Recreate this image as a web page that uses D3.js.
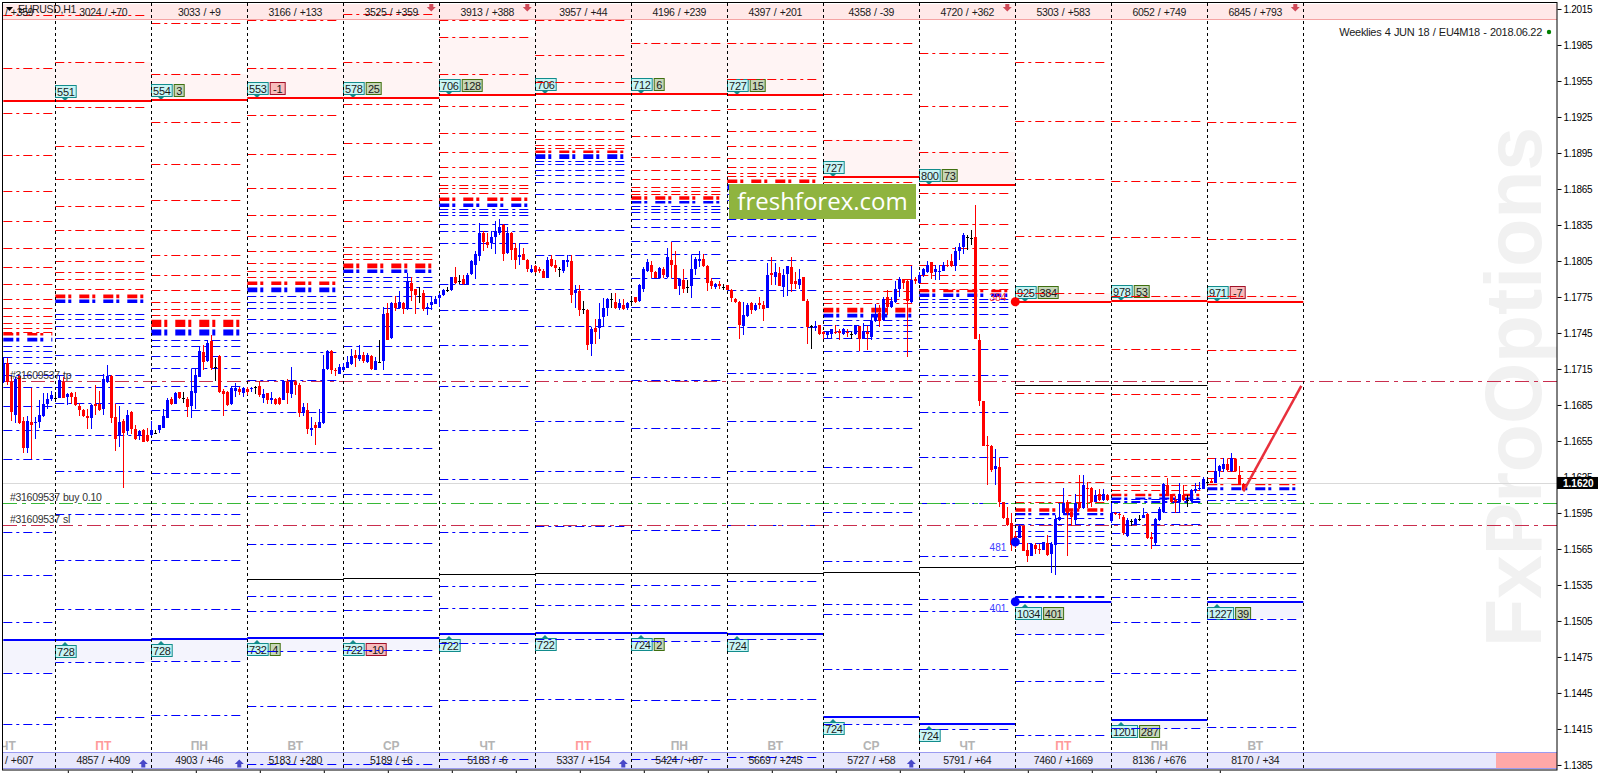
<!DOCTYPE html>
<html>
<head>
<meta charset="utf-8">
<title>EURUSD,H1</title>
<script src="https://cdn.jsdelivr.net/npm/d3@7"></script>
<style>
  html, body { margin: 0; padding: 0; background: #fff; overflow: hidden; }
  text { font-family: "Liberation Sans", sans-serif; }
  .small { font-size: 10.5px; fill: #1a1a1a; letter-spacing: -0.3px; word-spacing: 0.6px; }
  .axis text { font-family: "Liberation Sans", sans-serif; font-size: 10px; fill: #000; letter-spacing: -0.3px; }
  .axis line { stroke: #000; }
</style>
</head>
<body>
<div id="chart"></div>
<script>
// all prices are in points (1.1620 -> 11620)
const priceTicks = [12015, 11985, 11955, 11925, 11895, 11865, 11835, 11805, 11775, 11745, 11715, 11685, 11655, 11625, 11595, 11565, 11535, 11505, 11475, 11445, 11415, 11385]

const candleOpen = [
  11704, 11720, 11704, 11677, 11709, 11672, 11649, 11671, 11670, 11671,
  11676, 11686, 11690, 11691, 11691, 11704, 11692, 11695, 11692, 11684,
  11681, 11676, 11674, 11686, 11686, 11682, 11704, 11709, 11675, 11659,
  11672, 11663, 11679, 11665, 11659, 11664, 11660, 11660, 11662, 11664,
  11666, 11674, 11690, 11686, 11696, 11691, 11690, 11684, 11695, 11708,
  11729, 11722, 11738, 11717, 11726, 11697, 11696, 11686, 11697, 11698,
  11695, 11698, 11698, 11700, 11701, 11691, 11695, 11689, 11690, 11691,
  11689, 11704, 11694, 11704, 11702, 11678, 11681, 11664, 11668, 11666,
  11670, 11715, 11730, 11714, 11711, 11714, 11716, 11719, 11727, 11723,
  11727, 11721, 11726, 11714, 11721, 11722, 11762, 11741, 11770, 11766,
  11770, 11765, 11787, 11782, 11776, 11778, 11765, 11768, 11769, 11774,
  11777, 11781, 11781, 11792, 11788, 11790, 11785, 11794, 11802, 11809,
  11828, 11821, 11820, 11825, 11828, 11835, 11812, 11828, 11816, 11808,
  11811, 11806, 11796, 11801, 11798, 11797, 11791, 11807, 11802, 11798,
  11797, 11804, 11805, 11778, 11780, 11765, 11764, 11736, 11749, 11749,
  11758, 11766, 11773, 11771, 11766, 11768, 11766, 11772, 11775, 11772,
  11782, 11797, 11802, 11796, 11791, 11798, 11792, 11806, 11802, 11784,
  11789, 11783, 11784, 11798, 11805, 11807, 11801, 11788, 11783, 11786,
  11783, 11785, 11781, 11773, 11771, 11751, 11759, 11770, 11764, 11770,
  11768, 11766, 11795, 11792, 11795, 11783, 11794, 11800, 11788, 11785,
  11792, 11772, 11751, 11749, 11752, 11746, 11743, 11744, 11746, 11747,
  11744, 11746, 11744, 11744, 11751, 11740, 11746, 11742, 11755, 11762,
  11756, 11775, 11767, 11771, 11782, 11790, 11788, 11771, 11790, 11787,
  11793, 11796, 11804, 11796, 11796, 11797, 11802, 11805, 11801, 11813,
  11817, 11825, 11824, 11825, 11739, 11688, 11652, 11651, 11632, 11633,
  11604, 11591, 11587, 11576, 11574, 11584, 11564, 11559, 11568, 11565,
  11564, 11570, 11561, 11568, 11589, 11595, 11604, 11596, 11589, 11604,
  11599, 11616, 11616, 11604, 11611, 11606, 11610, 11588, 11595, 11594,
  11592, 11576, 11588, 11586, 11590, 11591, 11594, 11575, 11570, 11589,
  11596, 11618, 11611, 11606, 11604, 11610, 11606, 11605, 11613, 11615,
  11615, 11621, 11622, 11620, 11630, 11632, 11636, 11630, 11640, 11627, 11619
]
const candleHigh = [
  11725, 11724, 11709, 11708, 11710, 11675, 11676, 11699, 11675, 11689,
  11695, 11695, 11697, 11696, 11710, 11708, 11695, 11696, 11696, 11687,
  11682, 11682, 11686, 11702, 11697, 11711, 11718, 11710, 11686, 11684,
  11673, 11681, 11680, 11668, 11664, 11665, 11666, 11672, 11664, 11668,
  11682, 11691, 11692, 11696, 11696, 11696, 11692, 11715, 11716, 11734,
  11735, 11739, 11743, 11724, 11727, 11698, 11697, 11701, 11703, 11700,
  11700, 11700, 11700, 11701, 11705, 11698, 11695, 11696, 11691, 11692,
  11706, 11707, 11717, 11706, 11703, 11687, 11687, 11675, 11671, 11682,
  11727, 11731, 11731, 11716, 11719, 11720, 11726, 11732, 11731, 11735,
  11729, 11728, 11727, 11725, 11739, 11767, 11770, 11771, 11776, 11780,
  11771, 11795, 11792, 11782, 11783, 11781, 11770, 11775, 11776, 11778,
  11782, 11783, 11792, 11800, 11793, 11793, 11795, 11806, 11813, 11837,
  11830, 11828, 11830, 11838, 11840, 11836, 11833, 11829, 11820, 11820,
  11816, 11807, 11802, 11802, 11800, 11798, 11808, 11810, 11806, 11800,
  11806, 11810, 11810, 11785, 11785, 11772, 11765, 11750, 11757, 11770,
  11774, 11774, 11778, 11778, 11773, 11773, 11771, 11776, 11775, 11786,
  11800, 11807, 11805, 11797, 11800, 11800, 11816, 11821, 11813, 11791,
  11798, 11789, 11810, 11808, 11813, 11811, 11802, 11791, 11787, 11788,
  11786, 11785, 11782, 11774, 11772, 11771, 11770, 11771, 11770, 11775,
  11772, 11803, 11808, 11803, 11800, 11798, 11801, 11808, 11796, 11798,
  11792, 11773, 11752, 11755, 11752, 11747, 11747, 11748, 11752, 11748,
  11749, 11748, 11746, 11752, 11751, 11753, 11751, 11761, 11769, 11768,
  11775, 11781, 11775, 11788, 11792, 11790, 11789, 11801, 11792, 11796,
  11799, 11805, 11804, 11802, 11802, 11804, 11806, 11811, 11817, 11820,
  11828, 11827, 11831, 11852, 11744, 11688, 11659, 11652, 11648, 11641,
  11604, 11600, 11595, 11580, 11585, 11584, 11570, 11570, 11570, 11569,
  11571, 11577, 11571, 11593, 11603, 11616, 11606, 11597, 11611, 11627,
  11627, 11621, 11617, 11614, 11615, 11615, 11611, 11603, 11596, 11595,
  11593, 11591, 11590, 11591, 11593, 11599, 11595, 11579, 11591, 11600,
  11620, 11624, 11611, 11609, 11620, 11618, 11610, 11615, 11620, 11621,
  11625, 11623, 11623, 11641, 11635, 11641, 11640, 11645, 11641, 11634, 11620
]
const candleLow = [
  11703, 11702, 11672, 11670, 11669, 11645, 11645, 11640, 11657, 11666,
  11675, 11682, 11688, 11689, 11691, 11691, 11685, 11686, 11684, 11676,
  11675, 11665, 11665, 11677, 11680, 11677, 11703, 11670, 11647, 11650,
  11616, 11660, 11661, 11656, 11656, 11654, 11654, 11659, 11661, 11662,
  11666, 11674, 11685, 11686, 11690, 11687, 11675, 11674, 11682, 11708,
  11714, 11721, 11714, 11705, 11695, 11676, 11684, 11685, 11692, 11693,
  11692, 11693, 11696, 11694, 11692, 11687, 11686, 11686, 11685, 11685,
  11689, 11686, 11691, 11693, 11675, 11676, 11661, 11659, 11652, 11666,
  11669, 11714, 11711, 11709, 11711, 11713, 11716, 11718, 11717, 11722,
  11720, 11720, 11714, 11714, 11720, 11714, 11739, 11740, 11763, 11765,
  11761, 11764, 11772, 11761, 11770, 11763, 11760, 11764, 11769, 11767,
  11776, 11779, 11780, 11786, 11786, 11785, 11785, 11793, 11790, 11805,
  11813, 11816, 11815, 11811, 11827, 11805, 11811, 11806, 11798, 11802,
  11806, 11796, 11795, 11795, 11795, 11791, 11791, 11800, 11796, 11792,
  11795, 11800, 11770, 11766, 11759, 11761, 11731, 11726, 11736, 11740,
  11750, 11759, 11766, 11765, 11764, 11764, 11764, 11769, 11770, 11771,
  11779, 11796, 11791, 11791, 11790, 11791, 11791, 11791, 11782, 11777,
  11778, 11778, 11774, 11793, 11800, 11800, 11780, 11782, 11782, 11782,
  11781, 11781, 11771, 11770, 11740, 11743, 11758, 11761, 11763, 11765,
  11755, 11766, 11785, 11785, 11784, 11775, 11776, 11779, 11782, 11782,
  11772, 11736, 11732, 11747, 11743, 11740, 11740, 11740, 11744, 11739,
  11743, 11742, 11740, 11743, 11730, 11740, 11731, 11739, 11754, 11750,
  11755, 11760, 11766, 11770, 11775, 11782, 11725, 11770, 11786, 11786,
  11792, 11795, 11790, 11789, 11789, 11797, 11800, 11800, 11797, 11806,
  11811, 11814, 11818, 11740, 11684, 11651, 11618, 11629, 11618, 11600,
  11590, 11584, 11563, 11566, 11574, 11563, 11554, 11559, 11561, 11561,
  11564, 11559, 11545, 11543, 11588, 11593, 11559, 11584, 11585, 11598,
  11598, 11599, 11600, 11604, 11605, 11605, 11605, 11587, 11593, 11590,
  11577, 11575, 11584, 11585, 11588, 11591, 11573, 11565, 11568, 11588,
  11595, 11609, 11603, 11595, 11596, 11605, 11600, 11604, 11612, 11614,
  11615, 11620, 11620, 11620, 11625, 11629, 11630, 11629, 11629, 11618, 11613
]
const candleClose = [
  11720, 11704, 11679, 11707, 11670, 11649, 11672, 11668, 11671, 11677,
  11686, 11690, 11693, 11691, 11706, 11691, 11694, 11692, 11685, 11681,
  11676, 11674, 11685, 11684, 11681, 11707, 11709, 11674, 11657, 11671,
  11662, 11677, 11665, 11657, 11663, 11654, 11655, 11664, 11662, 11668,
  11676, 11689, 11686, 11695, 11691, 11691, 11683, 11697, 11710, 11730,
  11721, 11737, 11716, 11717, 11696, 11694, 11685, 11699, 11699, 11696,
  11699, 11696, 11699, 11700, 11693, 11694, 11689, 11691, 11686, 11686,
  11705, 11695, 11705, 11702, 11678, 11683, 11665, 11666, 11666, 11671,
  11715, 11730, 11714, 11713, 11717, 11717, 11721, 11726, 11724, 11727,
  11722, 11727, 11715, 11722, 11721, 11761, 11739, 11770, 11766, 11771,
  11765, 11788, 11780, 11777, 11776, 11765, 11767, 11771, 11773, 11777,
  11781, 11781, 11792, 11787, 11788, 11786, 11793, 11805, 11811, 11828,
  11821, 11818, 11825, 11830, 11833, 11811, 11828, 11814, 11806, 11810,
  11806, 11798, 11798, 11796, 11797, 11791, 11806, 11801, 11799, 11798,
  11806, 11806, 11777, 11781, 11764, 11765, 11735, 11748, 11746, 11757,
  11766, 11773, 11773, 11766, 11770, 11765, 11770, 11772, 11771, 11785,
  11798, 11804, 11796, 11791, 11799, 11793, 11808, 11802, 11782, 11790,
  11782, 11783, 11798, 11807, 11807, 11801, 11787, 11784, 11786, 11784,
  11783, 11781, 11774, 11771, 11752, 11760, 11768, 11764, 11768, 11768,
  11765, 11793, 11793, 11796, 11784, 11793, 11801, 11786, 11786, 11790,
  11772, 11750, 11751, 11751, 11744, 11744, 11746, 11748, 11745, 11745,
  11748, 11745, 11744, 11752, 11740, 11747, 11744, 11755, 11761, 11755,
  11773, 11767, 11772, 11782, 11790, 11787, 11772, 11789, 11788, 11793,
  11798, 11802, 11795, 11798, 11797, 11802, 11801, 11801, 11813, 11817,
  11827, 11825, 11824, 11740, 11688, 11651, 11651, 11631, 11634, 11604,
  11591, 11585, 11568, 11570, 11584, 11563, 11559, 11569, 11565, 11564,
  11571, 11560, 11569, 11590, 11592, 11603, 11595, 11592, 11603, 11599,
  11618, 11615, 11604, 11610, 11606, 11611, 11606, 11595, 11594, 11593,
  11578, 11589, 11588, 11590, 11590, 11593, 11574, 11573, 11590, 11598,
  11619, 11610, 11604, 11604, 11611, 11606, 11606, 11614, 11615, 11616,
  11623, 11621, 11620, 11630, 11634, 11636, 11631, 11641, 11630, 11618, 11614
]

// one entry per daily column, first one is the cut off column on the left
const dayNames = ['ЧТ', 'ПТ', 'ПН', 'ВТ', 'СР', 'ЧТ', 'ПТ', 'ПН', 'ВТ', 'СР', 'ЧТ', 'ПТ', 'ПН', 'ВТ']
const headerTexts = ['/ +359', '3024 / +70', '3033 / +9', '3166 / +133', '3525 / +359', '3913 / +388', '3957 / +44', '4196 / +239', '4397 / +201', '4358 / -39', '4720 / +362', '5303 / +583', '6052 / +749', '6845 / +793']
const footerTexts = ['/ +607', '4857 / +409', '4903 / +46', '5183 / +280', '5189 / +6', '5183 / -6', '5337 / +154', '5424 / +87', '5669 / +245', '5727 / +58', '5791 / +64', '7460 / +1669', '8136 / +676', '8170 / +34']

const redLevels = [
  [12010, 11966, 11928, 11893, 11863, 11838, 11816, 11800, 11786, 11773, 11766, 11759, 11753, 11749, 11746],
  [12010, 11971, 11933, 11901, 11873, 11851, 11831, 11816, 11805, 11796, 11790, 11782],
  [12003, 11961, 11921, 11886, 11856, 11831, 11810, 11793, 11781, 11771, 11765, 11760],
  [12006, 11966, 11927, 11894, 11866, 11843, 11826, 11813, 11803, 11797, 11792],
  [12011, 11971, 11936, 11903, 11876, 11856, 11838, 11817, 11811, 11807],
  [12006, 11992, 11961, 11934, 11912, 11896, 11883, 11875, 11868, 11866, 11862],
  [12006, 11977, 11954, 11936, 11923, 11913, 11907, 11902, 11899],
  [11987, 11931, 11909, 11892, 11881, 11873, 11867, 11863, 11861],
  [11987, 11957, 11932, 11913, 11901, 11891, 11883, 11878, 11876],
  [11987, 11944, 11906, 11871, 11820, 11802, 11790, 11780, 11773, 11770],
  [11978, 11934, 11896, 11862, 11836, 11816, 11802, 11793, 11787, 11782],
  [11971, 11922, 11873, 11826, 11778, 11735, 11695, 11661, 11636, 11621, 11610, 11604],
  [11922, 11872, 11825, 11776, 11732, 11694, 11661, 11640, 11626, 11618, 11614],
  [11921, 11871, 11823, 11776, 11731, 11692, 11662, 11641, 11630, 11624]
]
const blueLevels = [
  [11734, 11730, 11725, 11720, 11710, 11700, 11684, 11664, 11640, 11579, 11543, 11504, 11462, 11419],
  [11761, 11757, 11751, 11741, 11727, 11710, 11700, 11687, 11660, 11630, 11594, 11556, 11515, 11471, 11425],
  [11739, 11734, 11726, 11716, 11701, 11681, 11656, 11628, 11594, 11556, 11515, 11472, 11427],
  [11776, 11771, 11766, 11757, 11745, 11729, 11706, 11679, 11646, 11609, 11569, 11526, 11513, 11480, 11434, 11386],
  [11792, 11788, 11783, 11776, 11766, 11751, 11734, 11711, 11681, 11649, 11611, 11570, 11526, 11514, 11481, 11434, 11386],
  [11848, 11846, 11843, 11836, 11830, 11820, 11786, 11764, 11735, 11701, 11664, 11623, 11579, 11534, 11516, 11487, 11439, 11390],
  [11888, 11886, 11881, 11877, 11871, 11861, 11848, 11831, 11810, 11782, 11751, 11714, 11672, 11630, 11584, 11536, 11518, 11490, 11440],
  [11851, 11848, 11846, 11840, 11833, 11822, 11811, 11791, 11767, 11740, 11706, 11666, 11625, 11581, 11535, 11518, 11488, 11439, 11390],
  [11861, 11856, 11849, 11840, 11826, 11806, 11781, 11750, 11712, 11672, 11630, 11585, 11538, 11518, 11490, 11440, 11392],
  [11756, 11752, 11747, 11741, 11730, 11714, 11692, 11666, 11633, 11596, 11555, 11519, 11511, 11465, 11419],
  [11773, 11771, 11767, 11761, 11750, 11732, 11710, 11679, 11642, 11603, 11559, 11523, 11513, 11465, 11415],
  [11591, 11586, 11580, 11576, 11570, 11526, 11525, 11494, 11455, 11410],
  [11607, 11605, 11604, 11596, 11586, 11578, 11568, 11540, 11525, 11504, 11462, 11415.5],
  [11611, 11606, 11595, 11575, 11545, 11525, 11507, 11464, 11417]
]
const blackLevels = [[], [], [], [11540], [11541], [11544], [11545], [11545], [11545], [11546], [11550], [11701.4, 11652, 11551], [11702, 11653, 11553], [11553]]

// the dense zones, [top, bottom]
const redBands = [[11745, 11743], [11777, 11774], [11756, 11750], [11788, 11785], [11803, 11799], [11858, 11855], [11897, 11895], [11859, 11856], [11873, 11870], [11766, 11762], [11781, 11779], [11599, 11596], [11611, 11609], [11620, 11618]]
const blueBands = [[11741, 11738], [11773, 11770], [11748, 11743], [11783, 11779], [11798, 11795], [11853, 11850], [11894, 11890], [11855, 11853], [11869, 11864], [11761, 11758], [11778, 11775], [11595, 11593], [11607.5, 11606.5], [11616.4, 11614]]

const thickRed = [11938.6, 11938.6, 11939.4, 11941, 11941, 11943, 11944, 11944, 11943, 11875, 11868.6, 11771, 11772, 11771]
const thickBlue = [11489, 11489.5, 11490, 11491, 11491, 11494.5, 11495, 11495, 11494, 11425, 11419, 11521, 11422.5, 11521]
const shadeRed = [11966, 11971, 11961, 11966, 11971, 11992, 12006, 11987, 11987, 11906, 11896, 11778, 11776, 11776]
const shadeBlue = [11462, 11471, 11472, 11480, 11481, 11487, 11490, 11488, 11490, 11419, 11415, 11494, 11415.5, 11507]

// tags on the thick lines, value and change from the day before
const redTagValues = ['', '551', '554', '553', '578', '706', '706', '712', '727', '727', '800', '925', '978', '971']
const redTagDeltas = ['', '', '3', '-1', '25', '128', '', '6', '15', '', '73', '384', '53', '-7']
const blueTagValues = ['', '728', '728', '732', '722', '722', '722', '724', '724', '724', '724', '1034', '1201', '1227']
const blueTagDeltas = ['', '', '', '4', '-10', '', '', '2', '', '', '', '401', '287', '39']

// columns with the small arrows, in bars
const redArrowBars = [107, 131, 251, 323]
const blueArrowBars = [35, 59, 155, 227]

const orderTp = 11704.8
const orderBuy = 11603
const orderSl = 11584.7
const lastPrice = 11620
const trendBars = [310, 324.5]
const trendPrices = [11613, 11701]

const width = 1598
const height = 773
const axisX = 1557
const frameBottom = 770
const levelDash = '9,4,3,4'
const bandDash = '10,3,3,8'

const svg = d3.select('#chart').append('svg')
  .attr('width', width)
  .attr('height', height)
  .style('display', 'block')

const x = d3.scaleLinear().domain([0, 100]).range([3.3, 403.3])
const y = d3.scaleLinear().domain([12022.5, 11378.3]).range([0, height])

const colStart = i => i === 0 ? 0 : 13 + 24 * (i - 1)
const colEnd = i => 13 + 24 * i
const columns = d3.range(dayNames.length)

const defs = svg.append('defs')
defs.append('clipPath').attr('id', 'plot')
  .append('rect').attr('x', 3).attr('y', 3).attr('width', axisX - 3).attr('height', frameBottom - 3)

const plot = svg.append('g').attr('clip-path', 'url(#plot)')

// Watermark at the back
plot.append('text')
  .attr('transform', 'translate(1541, 647) rotate(-90)')
  .attr('textLength', 520)
  .attr('lengthAdjust', 'spacingAndGlyphs')
  .style('font-size', '80px')
  .style('font-weight', 'bold')
  .style('fill', '#f1f1f1')
  .text('FxProOptions')

// Pale zones next to the thick lines
plot.selectAll('.shade-red').data(columns).enter().append('rect')
  .attr('x', i => x(colStart(i)))
  .attr('y', i => y(shadeRed[i]))
  .attr('width', i => x(colEnd(i)) - x(colStart(i)))
  .attr('height', i => y(thickRed[i]) - y(shadeRed[i]))
  .attr('fill', '#fff4f4')
plot.selectAll('.shade-blue').data(columns).enter().append('rect')
  .attr('x', i => x(colStart(i)))
  .attr('y', i => y(thickBlue[i]))
  .attr('width', i => x(colEnd(i)) - x(colStart(i)))
  .attr('height', i => y(shadeBlue[i]) - y(thickBlue[i]))
  .attr('fill', '#f4f4fd')

// Header and footer strips
plot.append('rect').attr('x', 3).attr('y', y(12019)).attr('width', axisX - 3).attr('height', 15)
  .attr('fill', '#ffe8e8')
plot.append('line').attr('x1', 3).attr('x2', axisX).attr('y1', 19.5).attr('y2', 19.5)
  .attr('stroke', '#f5a3a3')
plot.append('rect').attr('x', 3).attr('y', 752).attr('width', axisX - 3).attr('height', 17)
  .attr('fill', '#e8e8fc')
plot.append('rect').attr('x', 1496).attr('y', 753).attr('width', axisX - 1496).attr('height', 15)
  .attr('fill', '#ffa8a8')
plot.selectAll('.foot-line').data([752.5, 768.5]).enter().append('line')
  .attr('x1', 3).attr('x2', axisX).attr('y1', d => d).attr('y2', d => d)
  .attr('stroke', '#9b9bf0')

// Tags, the lines run over them
function drawTag (group, value, delta, left, top, arrowUp) {
  const w = 4.5 + 5.4 * value.length
  top = Math.round(top)
  group.append('rect').attr('x', left + 0.5).attr('y', top + 0.5).attr('width', w).attr('height', 12)
    .attr('fill', '#c8f5f5').attr('stroke', '#128c8c')
  const ax = left + 10
  const tip = arrowUp ? top - 3 : top + 16
  const base = arrowUp ? top : top + 13
  group.append('path').attr('d', `M${ax - 3},${base}L${ax},${tip}L${ax + 3},${base}Z`).attr('fill', '#128c8c')
  group.append('text').attr('class', 'small').attr('x', left + 0.5 + w / 2).attr('y', top + 10.5)
    .attr('text-anchor', 'middle').style('font-size', '11px').text(value)
  if (delta) {
    const neg = delta[0] === '-'
    const dw = 5 + 5 * delta.length
    const dl = left + w + 2
    group.append('rect').attr('x', dl + 0.5).attr('y', top + 0.5).attr('width', dw).attr('height', 12)
      .attr('fill', neg ? '#f8bcbc' : '#c6d6b8').attr('stroke', neg ? '#a01028' : '#3f6f10')
    group.append('text').attr('class', 'small').attr('x', dl + 0.5 + dw / 2).attr('y', top + 10.5)
      .attr('text-anchor', 'middle').style('font-size', '11px').text(delta)
  }
}
const tags = plot.append('g')
columns.forEach(i => {
  const left = Math.round(x(colStart(i)))
  if (redTagValues[i]) drawTag(tags, redTagValues[i], redTagDeltas[i], left, y(thickRed[i]) - 16, false)
  if (blueTagValues[i]) drawTag(tags, blueTagValues[i], blueTagDeltas[i], left, y(thickBlue[i]) + 5, true)
})

// Levels of every day
function levelLines (levels, color) {
  columns.forEach(i => {
    plot.append('g').selectAll('line').data(levels[i]).enter().append('line')
      .attr('x1', x(colStart(i)))
      .attr('x2', x(colEnd(i)) - 3)
      .attr('y1', d => Math.round(y(d)) + 0.5)
      .attr('y2', d => Math.round(y(d)) + 0.5)
      .attr('stroke', color)
      .attr('stroke-dasharray', levelDash)
  })
}
levelLines(redLevels, '#ff0000')
levelLines(blueLevels, '#0000ff')

// Dense zones, one thick dash-dot stroke
function bandLines (bands, color) {
  plot.append('g').selectAll('line').data(columns).enter().append('line')
    .attr('x1', i => x(colStart(i)))
    .attr('x2', i => x(colEnd(i)) - 3)
    .attr('y1', i => (y(bands[i][0]) + y(bands[i][1])) / 2)
    .attr('y2', i => (y(bands[i][0]) + y(bands[i][1])) / 2)
    .attr('stroke', color)
    .attr('stroke-width', i => Math.max(2, y(bands[i][1]) - y(bands[i][0])))
    .attr('stroke-dasharray', bandDash)
}
bandLines(redBands, '#ff0000')
bandLines(blueBands, '#0000ff')

// Solid lines
columns.forEach(i => {
  plot.append('g').selectAll('line').data(blackLevels[i]).enter().append('line')
    .attr('x1', x(colStart(i))).attr('x2', x(colEnd(i)))
    .attr('y1', d => Math.round(y(d)) + 0.5).attr('y2', d => Math.round(y(d)) + 0.5)
    .attr('stroke', '#000')
})
plot.append('g').selectAll('line').data(columns).enter().append('line')
  .attr('x1', i => x(colStart(i))).attr('x2', i => x(colEnd(i)))
  .attr('y1', i => Math.round(y(thickRed[i]))).attr('y2', i => Math.round(y(thickRed[i])))
  .attr('stroke', '#ff0000').attr('stroke-width', 2)
plot.append('g').selectAll('line').data(columns).enter().append('line')
  .attr('x1', i => x(colStart(i))).attr('x2', i => x(colEnd(i)))
  .attr('y1', i => Math.round(y(thickBlue[i]))).attr('y2', i => Math.round(y(thickBlue[i])))
  .attr('stroke', '#0000ff').attr('stroke-width', 2)

// Last price and the order lines
plot.append('line').attr('x1', 3).attr('x2', axisX)
  .attr('y1', Math.round(y(lastPrice)) + 0.5).attr('y2', Math.round(y(lastPrice)) + 0.5)
  .attr('stroke', '#d9d9d9')
plot.selectAll('.order').data([[orderTp, '#c92e4e'], [orderBuy, '#37b837'], [orderSl, '#c92e4e']]).enter().append('line')
  .attr('x1', 3).attr('x2', axisX)
  .attr('y1', d => Math.round(y(d[0])) + 0.5).attr('y2', d => Math.round(y(d[0])) + 0.5)
  .attr('stroke', d => d[1])
  .attr('stroke-dasharray', '14,5,4,5')

// Day separators
plot.append('g').selectAll('line').data(columns).enter().append('line')
  .attr('x1', i => Math.round(x(colEnd(i))) + 0.5).attr('x2', i => Math.round(x(colEnd(i))) + 0.5)
  .attr('y1', 3).attr('y2', frameBottom)
  .attr('stroke', '#000').attr('stroke-dasharray', '3,3')

// Candles
const bars = d3.range(candleOpen.length)
const candleColor = i => candleClose[i] > candleOpen[i] ? '#0000ff' : (candleClose[i] < candleOpen[i] ? '#ff0000' : '#000')
const candles = plot.append('g').attr('shape-rendering', 'crispEdges')
candles.selectAll('line').data(bars).enter().append('line')
  .attr('x1', i => Math.round(x(i)) + 0.5).attr('x2', i => Math.round(x(i)) + 0.5)
  .attr('y1', i => y(candleHigh[i])).attr('y2', i => y(candleLow[i]))
  .attr('stroke', candleColor)
candles.selectAll('rect').data(bars).enter().append('rect')
  .attr('x', i => Math.round(x(i)) - 1)
  .attr('width', 3)
  .attr('y', i => y(Math.max(candleOpen[i], candleClose[i])))
  .attr('height', i => Math.max(1, Math.abs(y(candleOpen[i]) - y(candleClose[i]))))
  .attr('fill', candleColor)

// Trend arrow line
plot.append('path')
  .attr('d', d3.line().x(d => x(d[0])).y(d => y(d[1]))([[trendBars[0], trendPrices[0]], [trendBars[1], trendPrices[1]]]))
  .attr('stroke', '#e8303c').attr('stroke-width', 2.5).attr('fill', 'none')

// Dots with their numbers at the start of the last days
plot.selectAll('.dot').data([[11771, '#ff0000'], [11570.8, '#0000ff'], [11521, '#0000ff']]).enter().append('circle')
  .attr('cx', x(253)).attr('cy', d => y(d[0])).attr('r', 4.5).attr('fill', d => d[1])
plot.selectAll('.dot-label').data([[11771, '384', '#ff3030', -1], [11570.8, '481', '#4040ff', 9], [11521, '401', '#4040ff', 10]]).enter().append('text')
  .attr('x', x(253) - 9).attr('y', d => y(d[0]) + d[3])
  .attr('text-anchor', 'end')
  .style('font-size', '10px').style('fill', d => d[2])
  .text(d => d[1])

// Small arrows in the strips
plot.selectAll('.arrow-down').data(redArrowBars).enter().append('path')
  .attr('transform', d => `translate(${x(d)}, 7)`)
  .attr('d', 'M-2,-3H2V0H4.5L0,4.5L-4.5,0H-2Z').attr('fill', '#d04a58')
plot.selectAll('.arrow-up').data(blueArrowBars).enter().append('path')
  .attr('transform', d => `translate(${x(d)}, 764)`)
  .attr('d', 'M-2,3.5H2V0H4.5L0,-4.5L-4.5,0H-2Z').attr('fill', '#4848c8')

// Strip texts and day names
const center = i => i === 0 ? 8 : (x(colStart(i)) + x(colEnd(i))) / 2
plot.selectAll('.head').data(columns).enter().append('text')
  .attr('class', 'small')
  .attr('x', i => i === 0 ? 5 : center(i))
  .attr('y', 15.5)
  .attr('text-anchor', i => i === 0 ? 'start' : 'middle')
  .text(i => headerTexts[i])
plot.selectAll('.foot').data(columns).enter().append('text')
  .attr('class', 'small')
  .attr('x', i => i === 0 ? 5 : center(i))
  .attr('y', 764)
  .attr('text-anchor', i => i === 0 ? 'start' : 'middle')
  .text(i => footerTexts[i])
plot.selectAll('.day').data(columns).enter().append('text')
  .attr('x', center)
  .attr('y', 749.5)
  .attr('text-anchor', 'middle')
  .style('font-size', '12px')
  .style('font-weight', 'bold')
  .style('fill', i => dayNames[i] === 'ПТ' ? '#ff9a9a' : '#b4b4b4')
  .text(i => dayNames[i])

// Chart texts
plot.append('text').attr('class', 'small').attr('x', 18).attr('y', 13).text('EURUSD,H1')
plot.append('path').attr('d', 'M6,7H13L9.5,11Z').attr('fill', '#000')
plot.selectAll('.order-text')
  .data([['#31609537 tp', 379], ['#31609537 buy 0.10', 501], ['#31609537 sl', 523]]).enter().append('text')
  .attr('class', 'small').attr('x', 10).attr('y', d => d[1])
  .style('fill', '#333').text(d => d[0])
plot.append('text').attr('class', 'small').attr('x', 1542).attr('y', 36)
  .attr('text-anchor', 'end').style('font-size', '11px').text('Weeklies 4 JUN 18 / EU4M18 - 2018.06.22')
plot.append('circle').attr('cx', 1549).attr('cy', 32).attr('r', 2.2).attr('fill', '#008000')

// Banner
plot.append('rect').attr('x', 729).attr('y', 184).attr('width', 187).attr('height', 35).attr('fill', '#8fb43f')
plot.append('text').attr('x', 822.5).attr('y', 210).attr('text-anchor', 'middle')
  .style('font-family', '"Open Sans", sans-serif').style('font-size', '24px').style('fill', '#fff')
  .text('freshforex.com')

// Frame and axes
svg.append('rect').attr('x', 2.5).attr('y', 2.5).attr('width', axisX - 2.5).attr('height', frameBottom - 2.5)
  .attr('fill', 'none').attr('stroke', '#000')

svg.append('g').attr('class', 'axis')
  .attr('transform', `translate(${axisX + 0.5}, 0)`)
  .call(d3.axisRight(y).tickValues(priceTicks).tickSize(4).tickPadding(2).tickFormat(d => (d / 10000).toFixed(4)))
  .call(g => g.select('.domain').remove())

svg.append('g').attr('class', 'axis')
  .attr('transform', `translate(0.5, ${frameBottom + 0.5})`)
  .call(d3.axisBottom(x).tickValues(d3.range(16, 305, 16)).tickSize(3).tickFormat(''))
  .call(g => g.select('.domain').remove())

// Current price box on the axis
svg.append('rect').attr('x', axisX).attr('y', y(lastPrice) - 6).attr('width', width - axisX).attr('height', 12).attr('fill', '#000')
svg.append('text').attr('x', axisX + 6).attr('y', y(lastPrice) + 4)
  .style('font-size', '10px').style('fill', '#fff').style('font-weight', 'bold')
  .text((lastPrice / 10000).toFixed(4))
</script>
</body>
</html>
